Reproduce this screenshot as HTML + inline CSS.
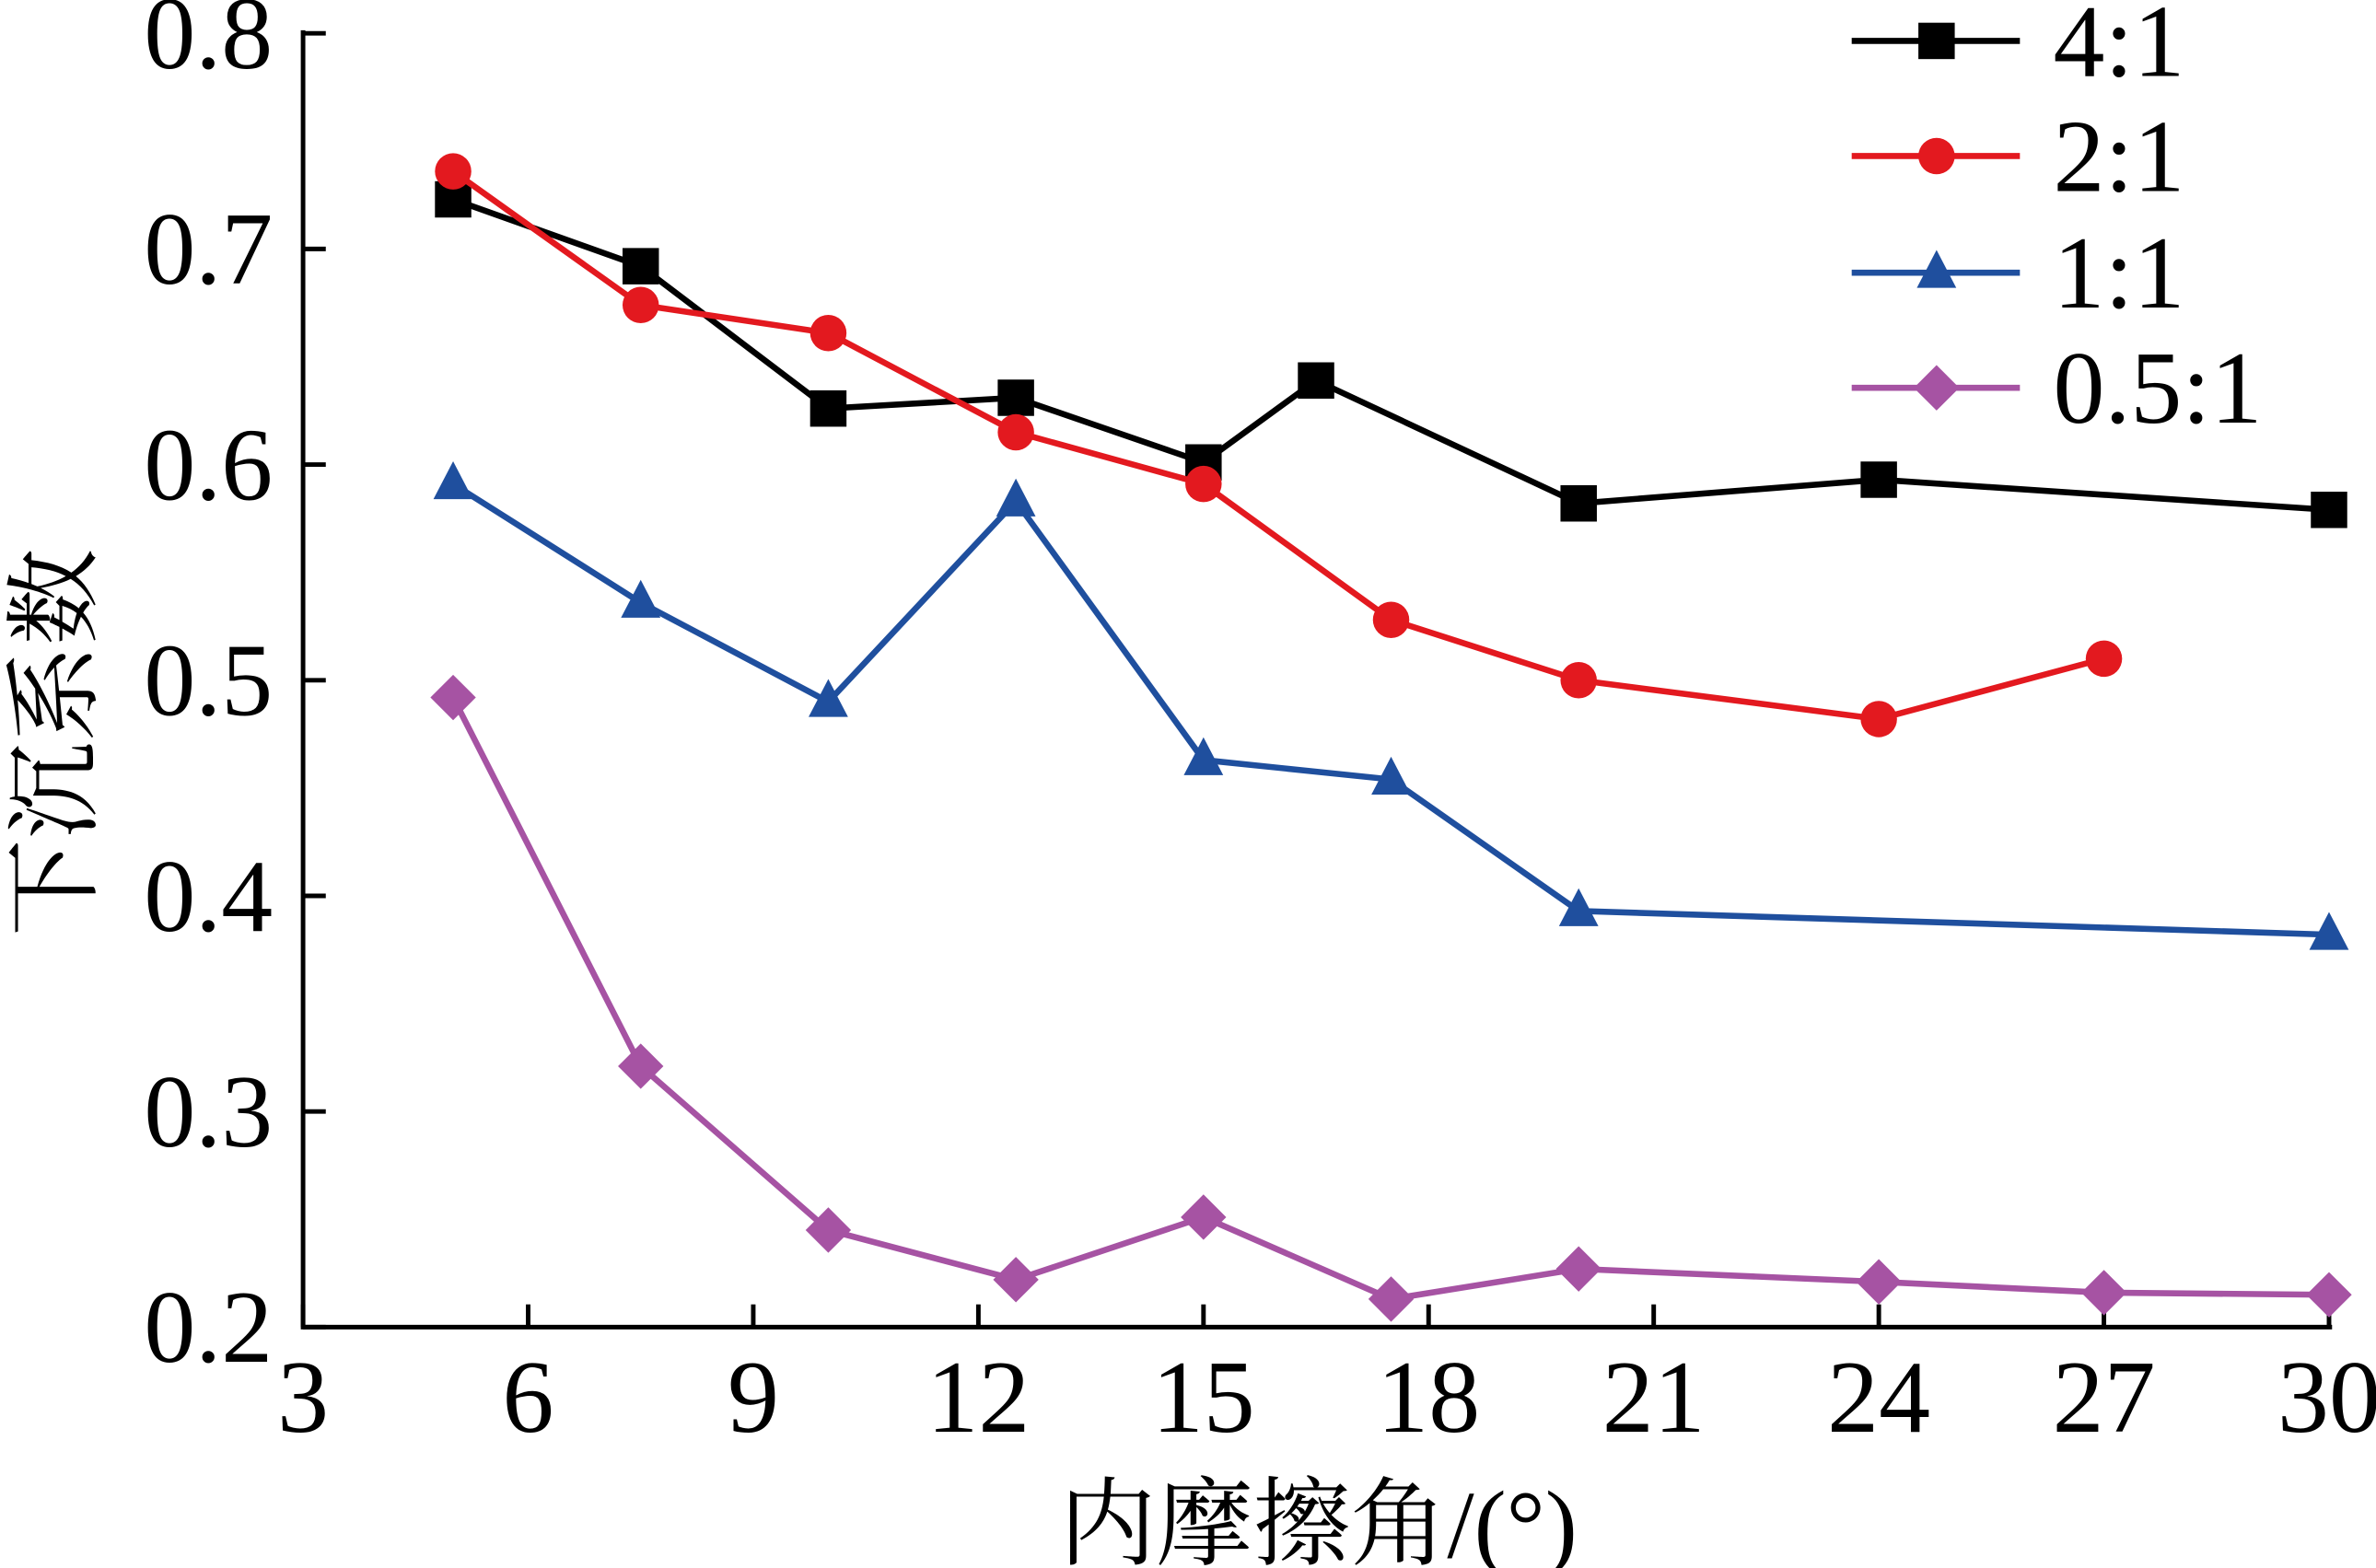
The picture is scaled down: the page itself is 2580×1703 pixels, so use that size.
<!DOCTYPE html>
<html><head><meta charset="utf-8"><style>
html,body{margin:0;padding:0;background:#fff;}
svg{display:block;}
text{font-family:"Liberation Serif","Noto Serif CJK SC","Noto Sans CJK SC",serif;fill:#000;}
</style></head><body>
<svg id="chart" width="2580" height="1703" viewBox="0 0 1568 1035" preserveAspectRatio="none" xmlns="http://www.w3.org/2000/svg">
<g id="axes"></g>
<g id="series"></g>
<g id="legend"></g>
</svg>
<script>
const xTicks=[3,6,9,12,15,18,21,24,27,30];
const yTicks=[0.2,0.3,0.4,0.5,0.6,0.7,0.8];
const seriesNames=["4:1","2:1","1:1","0.5:1"];
const x41=[5,7.5,10,12.5,15,16.5,20,24,30];
const y41=[0.723,0.692,0.626,0.631,0.601,0.639,0.582,0.593,0.579];
const x21=[5,7.5,10,12.5,15,17.5,20,24,27];
const y21=[0.736,0.674,0.661,0.615,0.591,0.528,0.500,0.482,0.510];
const x11=[5,7.5,10,12.5,15,17.5,20,30];
const y11=[0.591,0.536,0.490,0.583,0.463,0.454,0.393,0.382];
const x05=[5,7.5,10,12.5,15,17.5,20,24,27,30];
const y05=[0.492,0.321,0.245,0.222,0.251,0.213,0.227,0.221,0.216,0.215];

const NS="http://www.w3.org/2000/svg";
const X0=200,X1=1537,Y0=876,Y1=22;
const sx=v=>X0+(v-3)/(30-3)*(X1-X0);
const sy=v=>Y0-(v-0.2)/(0.8-0.2)*(Y0-Y1);
function mk(tag,attrs,parent){const e=document.createElementNS(NS,tag);for(const k in attrs)e.setAttribute(k,attrs[k]);parent.appendChild(e);return e;}
const axes=document.getElementById('axes');
let a=mk('line',{x1:X0,y1:Y0,x2:X1+2,y2:Y0,stroke:'#000','stroke-width':3},axes);


a=mk('line',{x1:X0,y1:Y0+1.5,x2:X0,y2:Y1-2,stroke:'#000','stroke-width':3},axes);


xTicks.forEach(v=>{
  const t=mk('line',{x1:sx(v),y1:Y0,x2:sx(v),y2:Y0-15,stroke:'#000','stroke-width':3},axes);
  
  
  const l=mk('text',{x:sx(v),y:945,'text-anchor':'middle','font-size':68},axes);
  
  
  l.textContent=v;
});
yTicks.forEach(v=>{
  const t=mk('line',{x1:X0,y1:sy(v),x2:X0+15,y2:sy(v),stroke:'#000','stroke-width':3},axes);
  
  
  const l=mk('text',{x:180,y:sy(v)+23,'text-anchor':'end','font-size':68},axes);
  
  
  l.textContent=v.toFixed(1);
});
let tt=mk('text',{x:870,y:1028,'text-anchor':'middle','font-size':64},axes);


tt.textContent='内摩擦角/(°)';
tt=mk('text',{x:0,y:0,'text-anchor':'middle','font-size':64,transform:'translate(58,490) rotate(-90)'},axes);


tt.textContent='下沉系数';

const colors=['#000000','#e3191f','#1f4f9e','#a653a3'];
const shapes=['square','circle','triangle','diamond'];
function marker(shape,cx,cy,c,g){
  let e;
  if(shape==='square')e=mk('rect',{x:cx-12,y:cy-12,width:24,height:24,fill:c},g);
  else if(shape==='circle')e=mk('circle',{cx:cx,cy:cy,r:12,fill:c},g);
  else if(shape==='triangle')e=mk('polygon',{points:`${cx},${cy-15} ${cx-13},${cy+10} ${cx+13},${cy+10}`,fill:c},g);
  else e=mk('polygon',{points:`${cx},${cy-15} ${cx+15},${cy} ${cx},${cy+15} ${cx-15},${cy}`,fill:c},g);
  return e;
}
const allX=[x41,x21,x11,x05],allY=[y41,y21,y11,y05];
const sg=document.getElementById('series');
seriesNames.forEach((n,i)=>{
  const g=mk('g',{},sg);
  
  
  const pts=allX[i].map((x,j)=>sx(x)+','+sy(allY[i][j])).join(' ');
  const pl=mk('polyline',{points:pts,fill:'none',stroke:colors[i],'stroke-width':4},g);
  
  
  allX[i].forEach((x,j)=>{
    const m=marker(shapes[i],sx(x),sy(allY[i][j]),colors[i],g);
    
    
  });
});
const lg=document.getElementById('legend');
const rows=[27,103,180,256];
seriesNames.forEach((n,i)=>{
  const g=mk('g',{},lg);
  
  
  mk('line',{x1:1222,y1:rows[i],x2:1333,y2:rows[i],stroke:colors[i],'stroke-width':4},g);
  marker(shapes[i],1278,rows[i],colors[i],g);
  const t=mk('text',{x:1355,y:rows[i]+23,'font-size':68},g);
  t.textContent=n;
});
</script>
</body></html>
